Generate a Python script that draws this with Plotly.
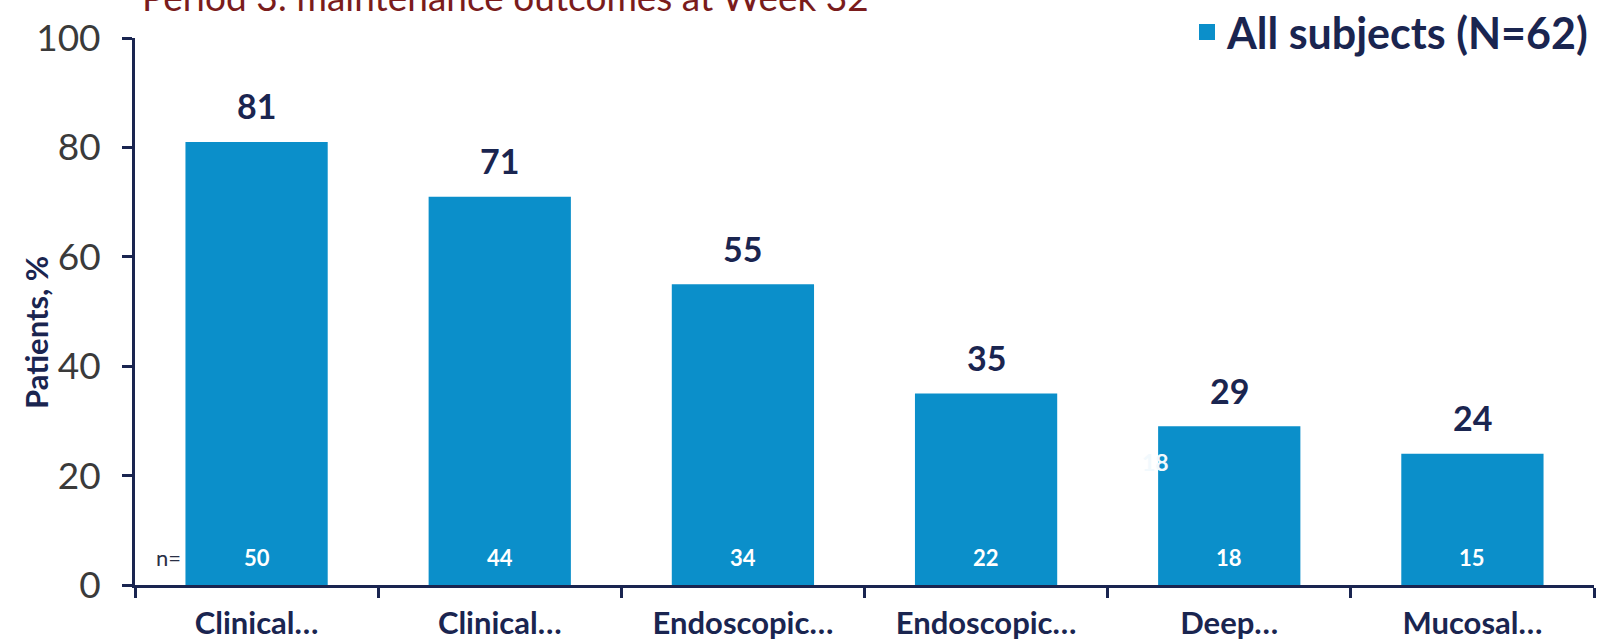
import plotly.graph_objects as go

# Week 32 maintenance outcomes
categories = ["Clinical…", "Clinical…", "Endoscopic…", "Endoscopic…", "Deep…", "Mucosal…"]
percent = [81, 71, 55, 35, 29, 24]
n_counts = [50, 44, 34, 22, 18, 15]
y_ticks = [0, 20, 40, 60, 80, 100]

BAR = "#0b8fca"
NAVY = "#1a2550"
FONT = "Lato, 'Open Sans', sans-serif"

xs = list(range(len(categories)))
BAR_WIDTH = 0.585

fig = go.Figure()
fig.add_trace(go.Bar(
    x=xs, y=percent, width=BAR_WIDTH, marker=dict(color=BAR, line=dict(width=0)),
    showlegend=False, hoverinfo="skip",
))
# legend entry drawn as a square marker
fig.add_trace(go.Scatter(
    x=[None], y=[None], mode="markers", name="All subjects (N=62)",
    marker=dict(symbol="square", size=20, color=BAR),
))

annotations = []
for x, p, n in zip(xs, percent, n_counts):
    annotations.append(dict(x=x, y=p, xref="x", yref="y", text=f"<b>{p}</b>",
                            showarrow=False, yshift=36, yanchor="middle",
                            font=dict(family=FONT, size=34, color=NAVY)))
    annotations.append(dict(x=x, y=0, xref="x", yref="y", text=f"<b>{n}</b>",
                            showarrow=False, yshift=28, yanchor="middle",
                            font=dict(family=FONT, size=22, color="white")))
annotations.append(dict(x=-0.5, y=0, xref="x", yref="y", text="n=",
                        showarrow=False, yshift=28, xshift=33, yanchor="middle",
                        font=dict(family=FONT, size=22, color="#2a2f45")))
# stray label fragment at the edge of the fifth bar
annotations.append(dict(x=4 - BAR_WIDTH / 2, y=22.5, xref="x", yref="y", text="<b>18</b>",
                        showarrow=False, xanchor="right", xshift=13, yanchor="middle",
                        font=dict(family=FONT, size=23, color="#f2f9fd")))
# page heading, partly above the visible area
annotations.append(dict(x=0, y=1.075, xref="paper", yref="paper",
                        text="Period 3: maintenance outcomes at Week 32",
                        showarrow=False, xanchor="left", yanchor="middle", xshift=5,
                        font=dict(family=FONT, size=37, color="#7a1c1c")))
# y-axis title
annotations.append(dict(x=-0.068, y=0.462, xref="paper", yref="paper",
                        text="<b>Patients, %</b>", textangle=-90, showarrow=False,
                        xanchor="center", yanchor="middle",
                        font=dict(family=FONT, size=31, color=NAVY)))

fig.update_layout(
    width=1597, height=644,
    margin=dict(l=135, r=3, t=38, b=59, autoexpand=False),
    paper_bgcolor="white", plot_bgcolor="white",
    font=dict(family=FONT),
    annotations=annotations,
    legend=dict(x=1, xanchor="right", y=1.011, yanchor="middle",
                font=dict(family=FONT, size=43, color=NAVY, weight="bold"),
                bgcolor="rgba(0,0,0,0)", itemsizing="trace"),
    xaxis=dict(
        range=[-0.5, len(categories) - 0.5],
        tickmode="array", tickvals=xs, ticktext=categories,
        ticks="", showgrid=False, zeroline=False,
        showline=True, linecolor=NAVY, linewidth=3,
        ticklabelstandoff=9,
        tickfont=dict(family=FONT, size=31, color=NAVY, weight="bold"),
        minor=dict(tickmode="array", tickvals=[i - 0.5 for i in range(len(categories) + 1)],
                   ticks="outside", ticklen=10, tickwidth=3, tickcolor=NAVY, showgrid=False),
    ),
    yaxis=dict(
        range=[0, 100], tickmode="array", tickvals=y_ticks,
        ticks="outside", ticklen=10, tickwidth=3, tickcolor=NAVY,
        showline=True, linecolor=NAVY, linewidth=3,
        showgrid=False, zeroline=False,
        ticklabelstandoff=14,
        tickfont=dict(family=FONT, size=37, color="#3a3a3a"),
    ),
)

fig.write_html("out.html")
